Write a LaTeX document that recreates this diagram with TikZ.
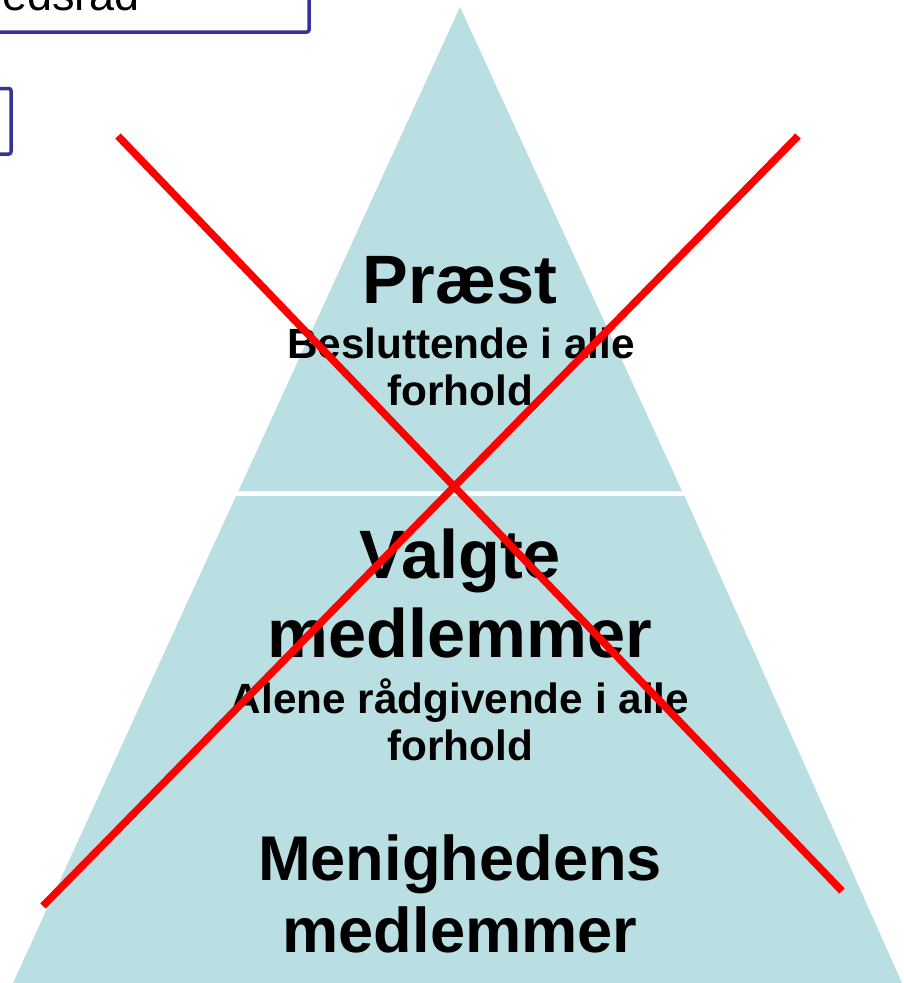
\documentclass[tikz,border=0pt]{standalone}
\usepackage{fontspec}
\setmainfont{Liberation Sans}
\definecolor{pyrblue}{HTML}{B9DFE3}
\definecolor{boxblue}{HTML}{333399}
\definecolor{crossred}{HTML}{FF0000}
\begin{document}
\begin{tikzpicture}[x=1pt, y=-1pt, line join=round,
	bigtext/.style={inner sep=0, anchor=base, font=\fontsize{68.5}{78}\selectfont\bfseries},
	smalltext/.style={inner sep=0, anchor=base, font=\fontsize{42.3}{48}\selectfont\bfseries},
	basetext/.style={inner sep=0, anchor=base, font=\fontsize{63.2}{72}\selectfont\bfseries}]
			\useasboundingbox (0,0) rectangle (904,983);
			%\draw[gray!10] (0,0) grid[step=100] (904,983);
			\coordinate (T) at (460,7);
			\coordinate (L1) at (238.5,491); \coordinate (R1) at (682,491);
			\coordinate (L2) at (236,496); \coordinate (R2) at (684.5,496);
			\coordinate (L3) at (9.8,990); \coordinate (R3) at (905.2,990);
			\fill[pyrblue] (T)--(L1)--(R1)--cycle;
			\fill[pyrblue] (L2)--(R2)--(R3)--(L3)--cycle;
			% cut off boxes top left
			\draw[boxblue, line width=3.5, rounded corners=2] (-60,-30) rectangle (309,32);
			\draw[boxblue, line width=3.5, rounded corners=2] (-100,88.5) rectangle (11,154);
			\node[inner sep=0, anchor=base east, font=\fontsize{45}{52}\selectfont] (raad) at (140,10) {Menighedsråd};
			% levels
			\node[bigtext] (praest) at (460,303) {Præst};
			\node[smalltext] (beslut) at (461,358) {Besluttende i alle};
			\node[smalltext] (forhold1) at (460,405) {forhold};
			\node[bigtext] (valgte) at (460,578) {Valgte};
			\node[bigtext] (medlem1) at (460,657) {medlemmer};
			\node[smalltext] (alene) at (460,713) {Alene rådgivende i alle};
			\node[smalltext] (forhold2) at (460,760) {forhold};
			\node[basetext] (menig) at (460,880) {Menighedens};
			\node[basetext] (medlem2) at (460,952) {medlemmer};
			% the cross
			\coordinate (X1) at (118,136); \coordinate (X2) at (842,891);
			\coordinate (Y1) at (798,136); \coordinate (Y2) at (43,906);
			\draw[crossred, line width=7.5] (X1)--(X2);
			\draw[crossred, line width=7.5] (Y1)--(Y2);
\end{tikzpicture}
\end{document}
